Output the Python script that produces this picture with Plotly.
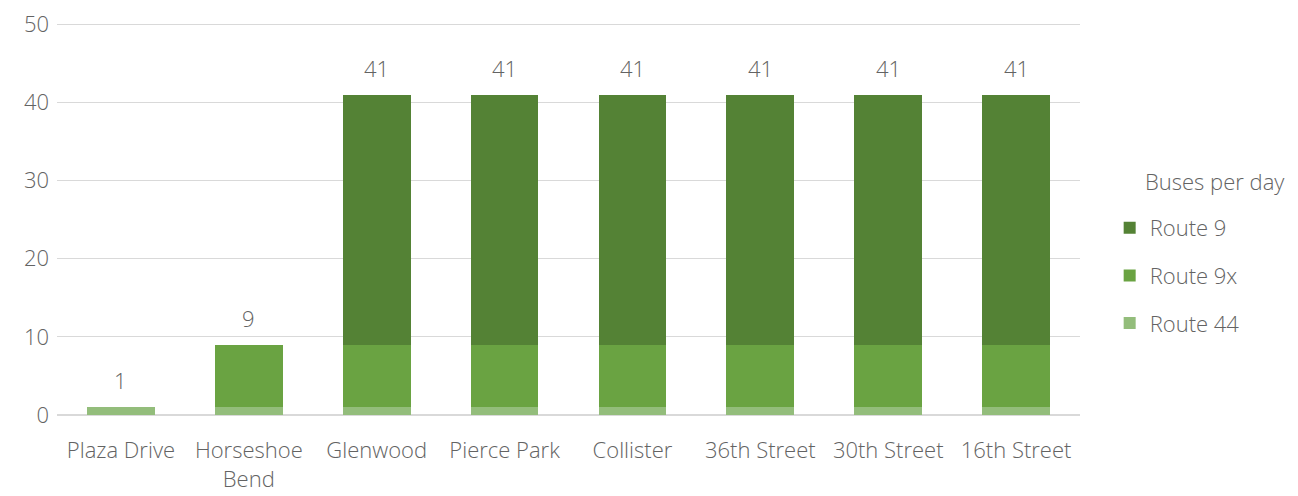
import plotly.graph_objects as go

stops = ['Plaza Drive', 'Horseshoe<br>Bend', 'Glenwood', 'Pierce Park', 'Collister',
         '36th Street', '30th Street', '16th Street']
route_44 = [1, 1, 1, 1, 1, 1, 1, 1]
route_9x = [0, 8, 8, 8, 8, 8, 8, 8]
route_9 = [0, 0, 32, 32, 32, 32, 32, 32]
totals = [a + b + c for a, b, c in zip(route_44, route_9x, route_9)]

grey = '#636363'
fnt = dict(family='Open Sans', size=22, color=grey, weight=300)

fig = go.Figure()
fig.add_trace(go.Bar(x=stops, y=route_44, name='Route 44', marker_color='#93BD7B',
                     legendrank=3, legendgroup='r44'))
fig.add_trace(go.Bar(x=stops, y=route_9x, name='Route 9x', marker_color='#6AA342',
                     legendrank=2, legendgroup='r9x'))
fig.add_trace(go.Bar(x=stops, y=route_9, name='Route 9', marker_color='#548235',
                     legendrank=1, legendgroup='r9'))

# total labels above each stack
for s, t in zip(stops, totals):
    fig.add_annotation(x=s, y=t, text=str(t), showarrow=False, yanchor='bottom',
                       yshift=10, font=fnt)

fig.add_annotation(x=1.062, y=0.596, xref='paper', yref='paper', text='Buses per day',
                   showarrow=False, xanchor='left', yanchor='middle', font=fnt)

fig.update_traces(selector=dict(type='bar'), marker_line_width=0)
fig.update_layout(
    barmode='stack', bargap=0.47,
    width=1298, height=496,
    margin=dict(l=49, r=226, t=14, b=89),
    plot_bgcolor='white', paper_bgcolor='white',
    font=fnt,
    legend=dict(traceorder='grouped', x=1.029, xanchor='left', y=0.355, yanchor='middle',
                font=fnt, tracegroupgap=16, itemwidth=30),
    xaxis=dict(showgrid=False, ticks='', tickfont=fnt, automargin=False,
               ticklabelstandoff=20),
    yaxis=dict(range=[0, 50.3], dtick=10, gridcolor='#D9D9D9', gridwidth=1.3,
               zeroline=True, zerolinecolor='#D9D9D9', zerolinewidth=2,
               tickfont=fnt, ticks='', ticklabelstandoff=7, automargin=False,
               ticklabeloverflow='allow'),
)
fig.write_html("out.html")
